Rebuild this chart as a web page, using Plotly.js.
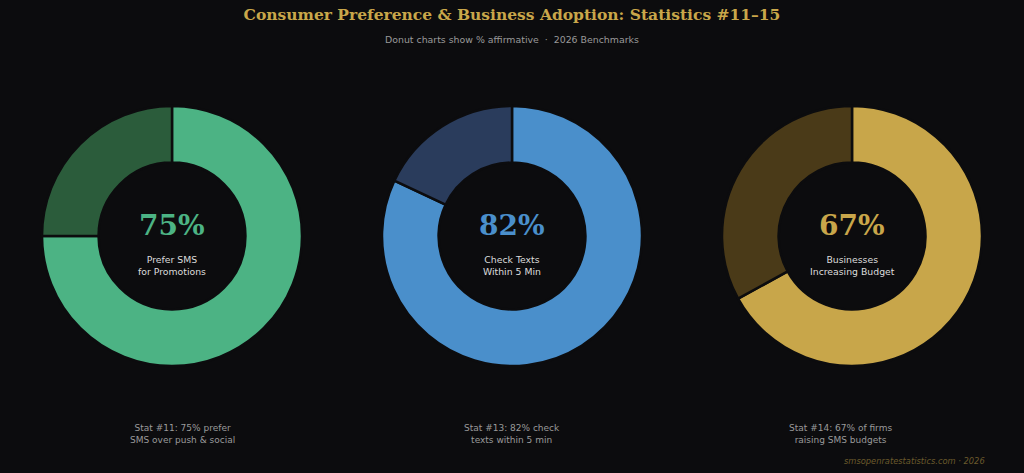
<!DOCTYPE html>
<html>
<head>
<meta charset="utf-8">
<script src="https://cdn.plot.ly/plotly-3.0.1.min.js"></script>
<style>
html,body{margin:0;padding:0;background:#0c0c0e;}
#chart{width:1024px;height:473px;}
</style>
</head>
<body>
<div id="chart"></div>
<script>
// Data
const statLabels = ["Prefer SMS<br>for Promotions", "Check Texts<br>Within 5 Min", "Businesses<br>Increasing Budget"];
const yesValues = [75, 82, 67];
const noValues = [25, 18, 33];
const bottomNotes = ["Stat #11: 75% prefer<br>SMS over push & social", "Stat #13: 82% check<br>texts within 5 min", "Stat #14: 67% of firms<br>raising SMS budgets"];
const mainColors = ["#4cb384", "#4a8fcb", "#c8a64a"];
const restColors = ["#2b5c3b", "#2a3c5c", "#4a3a18"];

const W = 1024, H = 473;
const centersX = [172, 512, 852];
const noteX = [182, 512, 840];
const centerY = 236;
const R = 130;

const traces = [];
const annotations = [];
for (let i = 0; i < 3; i++) {
  const cx = centersX[i];
  traces.push({
    type: "pie",
    values: [yesValues[i], noValues[i]],
    labels: ["Yes", "No"],
    hole: 0.565,
    sort: false,
    direction: "clockwise",
    rotation: 0,
    textinfo: "none",
    hoverinfo: "label+value",
    marker: {colors: [mainColors[i], restColors[i]], line: {color: "#0c0c0e", width: 2.5}},
    domain: {x: [(cx - R) / W, (cx + R) / W], y: [(H - centerY - R) / H, (H - centerY + R) / H]},
    showlegend: false
  });
  annotations.push({
    text: "<b>" + yesValues[i] + "%</b>", x: cx / W, y: 1 - 225 / H, xref: "paper", yref: "paper",
    showarrow: false, font: {family: "DejaVu Serif", size: 28, color: mainColors[i]}, xanchor: "center", yanchor: "middle"
  });
  annotations.push({
    text: statLabels[i], x: cx / W, y: 1 - 265 / H, xref: "paper", yref: "paper",
    showarrow: false, font: {family: "DejaVu Sans", size: 9.3, color: "#dcdcdc"}, xanchor: "center", yanchor: "middle"
  });
  annotations.push({
    text: bottomNotes[i], x: noteX[i] / W, y: 1 - 434 / H, xref: "paper", yref: "paper",
    showarrow: false, font: {family: "DejaVu Sans", size: 9, color: "#9a9a9a"}, xanchor: "center", yanchor: "middle"
  });
}
annotations.push({
  text: "Donut charts show % affirmative  ·  2026 Benchmarks", x: 0.5, y: 1 - 40 / H, xref: "paper", yref: "paper",
  showarrow: false, font: {family: "DejaVu Sans", size: 9.4, color: "#9a9a9a"}, xanchor: "center", yanchor: "middle"
});
annotations.push({
  text: "<i>smsopenratestatistics.com · 2026</i>", x: 987 / W, y: 1 - 461 / H, xref: "paper", yref: "paper",
  showarrow: false, font: {family: "DejaVu Sans", size: 8.3, color: "#6b5a2c"}, xanchor: "right", yanchor: "middle"
});

const layout = {
  width: W, height: H,
  paper_bgcolor: "#0c0c0e", plot_bgcolor: "#0c0c0e",
  margin: {l: 0, r: 0, t: 0, b: 0},
  title: {text: "<b>Consumer Preference & Business Adoption: Statistics #11–15</b>", x: 0.5, xanchor: "center",
    y: 1 - 15 / H, yanchor: "middle", font: {family: "DejaVu Serif", size: 15.5, color: "#c9a74a"}},
  annotations: annotations
};
Plotly.newPlot("chart", traces, layout, {displayModeBar: false, staticPlot: true});
</script>
</body>
</html>
